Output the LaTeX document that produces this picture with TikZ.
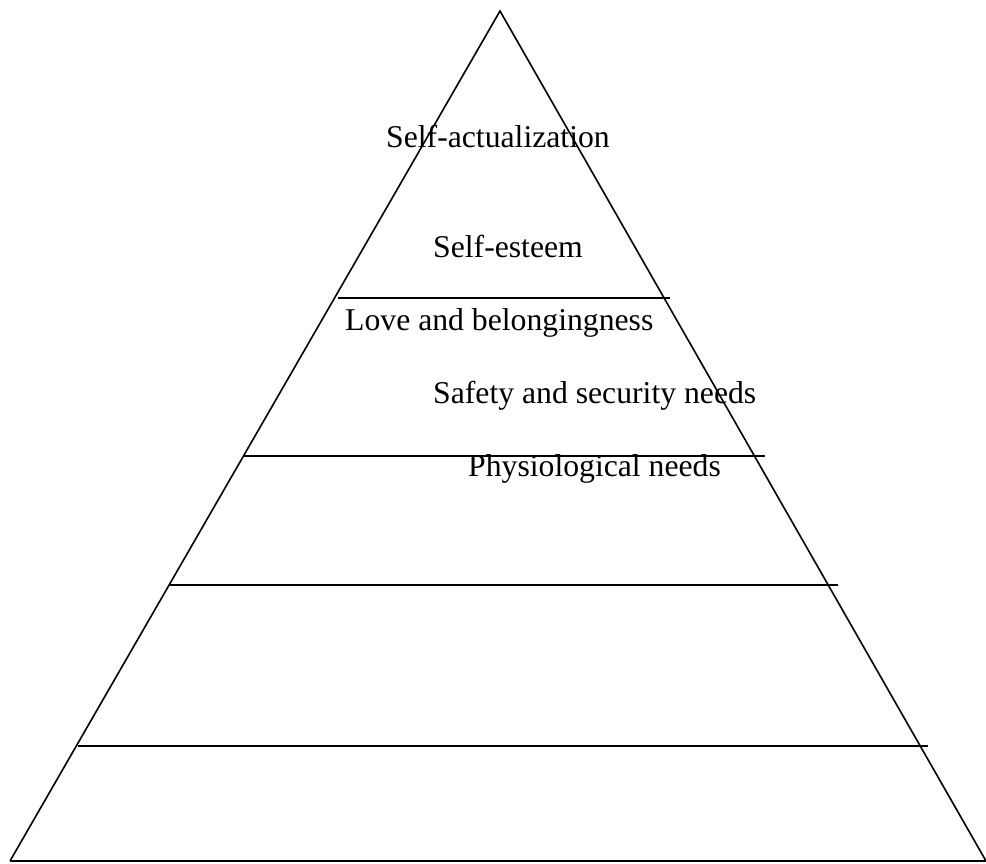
\documentclass[tikz,border=0pt]{standalone}
\usepackage{fontspec}
\setmainfont{Liberation Serif}
\usetikzlibrary{positioning}

\begin{document}
\begin{tikzpicture}
		[
		x = 1pt,
		y = -1pt,
		level/.style  = {line width = 1.9pt},
		need/.style   = {anchor = base west, inner sep = 0pt,
			font = \fontsize{31.7}{38}\selectfont}
		]
		\useasboundingbox (0,0) rectangle (986,863);
		% pyramid
		\coordinate (apex) at (500,11);
		\coordinate (bl)   at (10,861);
		\coordinate (br)   at (986,861);
		\draw [line width = 1.6pt] (bl) -- (apex) -- (br);
		\draw [level] (bl) -- (br);
		% levels
		\draw [level] (338,298) -- (670,298);
		\draw [level] (244,456) -- (765,456);
		\draw [level] (170,585) -- (838,585);
		\draw [level] (78,746)  -- (928,746);
		% labels
		\node [need] (selfact) at (386,147) {Self-actualization};
		\node [need] (esteem)  at (433,257) {Self-esteem};
		\node [need] (love)    at (345,330) {Love and belongingness};
		\node [need] (safety)  at (433,403) {Safety and security needs};
		\node [need] (physio)  at (468,476) {Physiological needs};
		\end{tikzpicture}
\end{document}
